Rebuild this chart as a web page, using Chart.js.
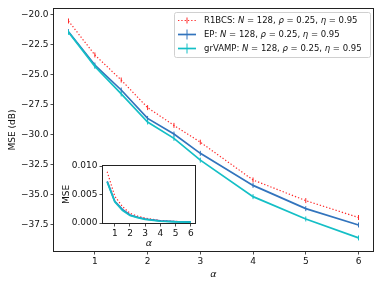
<!DOCTYPE html>
<html>
<head>
<meta charset="utf-8">
<script src="https://cdn.jsdelivr.net/npm/chart.js@4/dist/chart.umd.min.js"></script>
<style>
  body { margin: 0; background: #fff; }
  #wrap { position: relative; width: 382px; height: 287px; }
  #main { position: absolute; left: 0; top: 0; }
  #inset { position: absolute; left: 60px; top: 158px; }
</style>
</head>
<body>
<div id="wrap">
  <canvas id="main" width="382" height="287"></canvas>
  <canvas id="inset" width="140" height="92"></canvas>
</div>
<script>
// sample ratio alpha
var alphas = [0.5, 1, 1.5, 2, 2.5, 3, 4, 5, 6];
// MSE in dB, main plot
var r1bcsDb  = [-20.5, -23.33, -25.42, -27.72, -29.2, -30.6, -33.75, -35.47, -36.88];
var epDb     = [-21.39, -24.17, -26.25, -28.62, -29.92, -31.53, -34.2, -36.14, -37.5];
var grvampDb = [-21.44, -24.28, -26.58, -28.92, -30.28, -32.1, -35.14, -37.0, -38.58];
// linear MSE, inset
var r1bcsLin  = [0.0090, 0.0047, 0.0029, 0.0017, 0.0012, 0.00087, 0.00042, 0.00028, 0.00020];
var epLin     = [0.0073, 0.0038, 0.0024, 0.0014, 0.0010, 0.00070, 0.00038, 0.00024, 0.00018];
var grvampLin = [0.0072, 0.0037, 0.0022, 0.0013, 0.00094, 0.00062, 0.00031, 0.00020, 0.00014];
// tick labels
var xTicks = [1, 2, 3, 4, 5, 6];
var yTicks = [-20, -22.5, -25, -27.5, -30, -32.5, -35, -37.5];
var insetYTicks = [0, 0.005, 0.01];
var N = 128, rho = 0.25, eta = 0.95;
var names = ['R1BCS', 'EP', 'grVAMP'];

var RED = '#ff2a2a', BLUE = '#3274bd', CYAN = '#14bfc6';
var FONT = '"DejaVu Sans", sans-serif';

function pts(ys) { return alphas.map(function (a, i) { return { x: a, y: ys[i] }; }); }
function minus(s) { return s.replace('-', '\u2212'); }

function series(ys, color, dotted, order, inset) {
  return {
    data: pts(ys),
    borderColor: color,
    backgroundColor: color,
    borderWidth: dotted ? 1.2 : 1.7,
    borderDash: dotted ? [1.3, 2] : [],
    pointStyle: 'line',
    rotation: 90,
    pointRadius: inset ? 0 : 2.5,
    pointBorderColor: color,
    pointBorderWidth: 1,
    tension: 0,
    order: order
  };
}

function axisStyle() {
  return {
    grid: { drawOnChartArea: false, tickLength: 3.5, tickColor: '#222', tickWidth: 0.8 },
    border: { display: false },
    ticks: { color: '#111', font: { family: FONT, size: 9 }, padding: 2, autoSkip: false, maxRotation: 0 }
  };
}

// box around plot + axis titles
var frame = {
  id: 'frame',
  beforeDatasetsDraw: function (chart, args, opts) {
    var a = chart.chartArea, c = chart.ctx;
    if (opts.fill) { c.save(); c.fillStyle = '#fff'; c.fillRect(a.left, a.top, a.right - a.left, a.bottom - a.top); c.restore(); }
  },
  afterDraw: function (chart, args, opts) {
    var a = chart.chartArea, c = chart.ctx;
    c.save();
    c.strokeStyle = '#222';
    c.lineWidth = 1;
    c.strokeRect(Math.round(a.left) - 0.5, Math.round(a.top) - 0.5, Math.round(a.right - a.left) + 1, Math.round(a.bottom - a.top) + 1);
    c.fillStyle = '#111';
    c.textAlign = 'center';
    c.textBaseline = 'middle';
    c.font = 'italic 9.5px ' + FONT;
    c.fillText('\u03b1', (a.left + a.right) / 2, opts.xTitleY);
    c.translate(opts.yTitleX, (a.top + a.bottom) / 2);
    c.rotate(-Math.PI / 2);
    c.font = '9px ' + FONT;
    c.fillText(opts.yTitle, 0, 0);
    c.restore();
  }
};

var legendPlugin = {
  id: 'mplLegend',
  afterDraw: function (chart) {
    var c = chart.ctx;
    var x0 = 174.5, y0 = 12.5, w = 196, h = 45;
    c.save();
    c.fillStyle = 'rgba(255,255,255,0.85)';
    c.strokeStyle = '#d0d0d0';
    c.lineWidth = 1;
    c.beginPath();
    c.roundRect(x0, y0, w, h, 2);
    c.fill();
    c.stroke();
    var colors = [RED, BLUE, CYAN];
    for (var i = 0; i < 3; i++) {
      var y = 20.5 + i * 14;
      c.strokeStyle = colors[i];
      c.lineWidth = i === 0 ? 1.2 : 1.7;
      c.setLineDash(i === 0 ? [1.3, 2] : []);
      c.beginPath(); c.moveTo(178, y); c.lineTo(196, y); c.stroke();
      c.setLineDash([]);
      c.lineWidth = 1;
      c.beginPath(); c.moveTo(187, y - (i === 0 ? 3 : 5)); c.lineTo(187, y + (i === 0 ? 3 : 5)); c.stroke();
      var parts = [
        [names[i] + ': ', false], ['N', true], [' = ' + N + ', ', false],
        ['\u03c1', true], [' = ' + rho + ', ', false], ['\u03b7', true], [' = ' + eta, false]
      ];
      var tx = 204;
      c.fillStyle = '#111';
      c.textBaseline = 'middle';
      c.textAlign = 'left';
      parts.forEach(function (p) {
        c.font = (p[1] ? 'italic ' : '') + '8.5px ' + FONT;
        c.fillText(p[0], tx, y);
        tx += c.measureText(p[0]).width;
      });
    }
    c.restore();
  }
};

var mainX = axisStyle();
mainX.type = 'linear';
mainX.min = 0.225; mainX.max = 6.275;
mainX.afterBuildTicks = function (s) { s.ticks = xTicks.map(function (v) { return { value: v }; }); };
mainX.afterFit = function (s) { s.height = 36; };
mainX.ticks.callback = function (v) { return String(v); };

var mainY = axisStyle();
mainY.min = -39.67; mainY.max = -19.5;
mainY.afterBuildTicks = function (s) { s.ticks = yTicks.map(function (v) { return { value: v }; }); };
mainY.afterFit = function (s) { s.width = 54; };
mainY.ticks.callback = function (v) { return minus(v.toFixed(1)); };

new Chart(document.getElementById('main'), {
  type: 'line',
  data: {
    datasets: [
      series(r1bcsDb, RED, true, 3, false),
      series(epDb, BLUE, false, 2, false),
      series(grvampDb, CYAN, false, 1, false)
    ]
  },
  options: {
    responsive: false,
    animation: false,
    layout: { padding: { left: 0, top: 9, right: 9, bottom: 0 } },
    plugins: {
      legend: { display: false },
      tooltip: { enabled: false },
      frame: { xTitleY: 275, yTitleX: 13, yTitle: 'MSE (dB)', fill: false }
    },
    scales: { x: mainX, y: mainY }
  },
  plugins: [frame, legendPlugin]
});

var inX = axisStyle();
inX.type = 'linear';
inX.min = 0.225; inX.max = 6.275;
inX.afterBuildTicks = function (s) { s.ticks = xTicks.map(function (v) { return { value: v }; }); };
inX.afterFit = function (s) { s.height = 27; };
inX.ticks.callback = function (v) { return String(v); };

var inY = axisStyle();
inY.min = 0; inY.max = 0.01;
inY.afterBuildTicks = function (s) { s.ticks = insetYTicks.map(function (v) { return { value: v }; }); };
inY.afterFit = function (s) { s.width = 43; };
inY.ticks.callback = function (v) { return v.toFixed(3); };

new Chart(document.getElementById('inset'), {
  type: 'line',
  data: {
    datasets: [
      series(r1bcsLin, RED, true, 3, true),
      series(epLin, BLUE, false, 2, true),
      series(grvampLin, CYAN, false, 1, true)
    ]
  },
  options: {
    responsive: false,
    animation: false,
    layout: { padding: { left: 0, top: 8, right: 5, bottom: 0 } },
    plugins: {
      legend: { display: false },
      tooltip: { enabled: false },
      frame: { xTitleY: 86, yTitleX: 7, yTitle: 'MSE', fill: true }
    },
    scales: { x: inX, y: inY }
  },
  plugins: [frame]
});
</script>
</body>
</html>
